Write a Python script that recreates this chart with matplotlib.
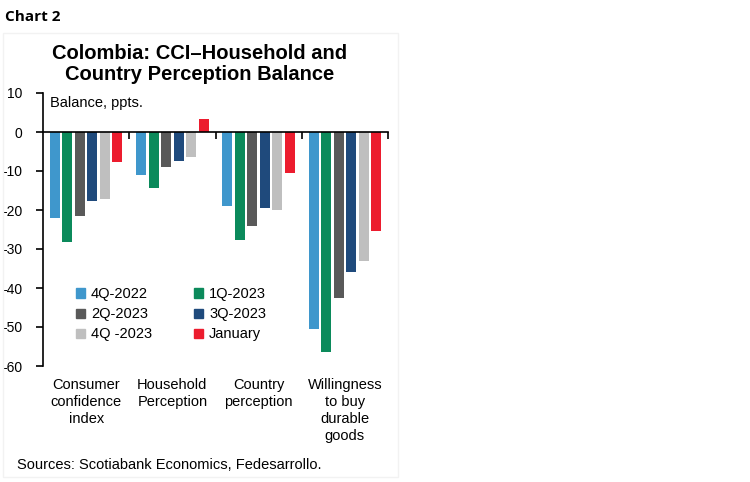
import numpy as np
import matplotlib
matplotlib.use("Agg")
import matplotlib.pyplot as plt
from matplotlib.patches import Patch, Rectangle
from matplotlib.transforms import blended_transform_factory

plt.rcParams['font.family'] = ['Liberation Sans', 'DejaVu Sans']
plt.rcParams['axes.unicode_minus'] = False

# donnees
categories = ["Consumer\nconfidence\nindex", "Household\nPerception",
              "Country\nperception", "Willingness\nto buy\ndurable\ngoods"]
series = ["4Q-2022", "1Q-2023", "2Q-2023", "3Q-2023", "4Q -2023", "January"]
q4_2022 = [-22.0, -11.0, -18.9, -50.5]
q1_2023 = [-28.2, -14.4, -27.6, -56.5]
q2_2023 = [-21.6, -9.0, -24.0, -42.5]
q3_2023 = [-17.8, -7.5, -19.5, -35.8]
q4_2023 = [-17.1, -6.5, -19.9, -33.2]
january = [-7.6, 3.4, -10.4, -25.3]
valeurs = [q4_2022, q1_2023, q2_2023, q3_2023, q4_2023, january]
couleurs = ["#3F97CC", "#0B8A5B", "#595959", "#1F4A7C", "#BFBFBF", "#EC1C2E"]

fig = plt.figure(figsize=(7.5, 4.82), dpi=100)
ax = fig.add_axes([43/750, 1-366/482, 345/750, 273/482])

x = np.arange(len(categories))
pas = 0.145
larg = 0.118
for i, (vals, c) in enumerate(zip(valeurs, couleurs)):
    ax.bar(x + (i - 2.5)*pas, vals, width=larg, color=c, label=series[i])

ax.set_xlim(-0.5, 3.5)
ax.set_ylim(-60, 10)
ax.set_yticks(np.arange(-60, 11, 10))
ax.tick_params(axis='y', direction='out', length=5, width=1.2, pad=10, labelsize=10)
ax.spines['top'].set_visible(False)
ax.spines['right'].set_visible(False)
ax.spines['left'].set_linewidth(1.2)
ax.spines['bottom'].set_position(('data', 0))
ax.spines['bottom'].set_linewidth(1.2)
ax.set_xticks([0.5, 1.5, 2.5, 3.5])
ax.set_xticklabels([])
ax.tick_params(axis='x', direction='out', length=5, width=1.2)

# etiquettes des categories sous le graphique
trans = blended_transform_factory(ax.transData, ax.transAxes)
for xi, lab in zip(x, categories):
    ax.text(xi, -0.045, lab, transform=trans, ha='center', va='top',
            fontsize=10.5, linespacing=1.25)

ax.text(50/750, 1-103/482, "Balance, ppts.", transform=fig.transFigure,
        ha='left', va='center', fontsize=10.5)

handles = [Patch(color=c) for c in couleurs]
ordre = [0, 2, 4, 1, 3, 5]
ax.legend([handles[k] for k in ordre], [series[k] for k in ordre], ncol=2,
          loc='upper left', bbox_to_anchor=(0.08, 0.31), frameon=False,
          fontsize=10.5, handlelength=0.6, handleheight=0.6, handletextpad=0.4,
          columnspacing=2.9, labelspacing=0.42, borderaxespad=0)

fig.text(5/750, 1-17/482, "Chart 2", fontsize=11, fontweight='bold',
         family=['Open Sans', 'DejaVu Sans'], ha='left', va='center')
fig.text(200/750, 1-64/482, "Colombia: CCI\u2013Household and\nCountry Perception Balance",
         fontsize=14.5, fontweight='bold', ha='center', va='center', linespacing=1.15)
fig.text(17/750, 1-465/482, "Sources: Scotiabank Economics, Fedesarrollo.",
         fontsize=10.5, ha='left', va='center')

fig.patches.append(Rectangle((3/750, 1-477/482), 395/750, 444/482, transform=fig.transFigure,
                             fill=False, edgecolor='#F2F2F2', linewidth=1))

fig.savefig("out.png", dpi=100)
